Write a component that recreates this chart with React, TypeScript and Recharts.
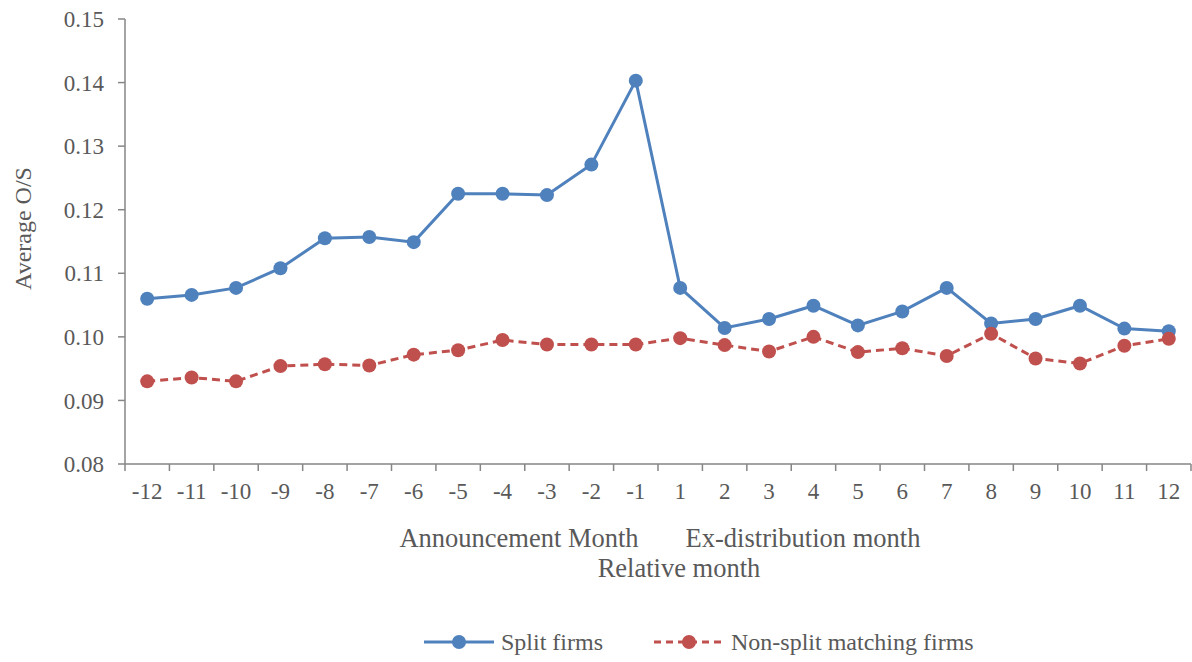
import React from "react";
import { LineChart, Line, XAxis, YAxis, Legend } from "recharts";

const months = ["-12", "-11", "-10", "-9", "-8", "-7", "-6", "-5", "-4", "-3", "-2", "-1", "1", "2", "3", "4", "5", "6", "7", "8", "9", "10", "11", "12"];
const splitFirms = [0.106, 0.1066, 0.1077, 0.1108, 0.1155, 0.1157, 0.1149, 0.1225, 0.1225, 0.1223, 0.1271, 0.1403, 0.1077, 0.1014, 0.1028, 0.1049, 0.1018, 0.104, 0.1077, 0.1021, 0.1028, 0.1049, 0.1013, 0.1009];
const nonSplitFirms = [0.093, 0.0936, 0.093, 0.0954, 0.0957, 0.0955, 0.0972, 0.0979, 0.0995, 0.0988, 0.0988, 0.0988, 0.0998, 0.0987, 0.0977, 0.1, 0.0976, 0.0982, 0.097, 0.1005, 0.0966, 0.0958, 0.0986, 0.0997];
const yTicks = [0.08, 0.09, 0.1, 0.11, 0.12, 0.13, 0.14, 0.15];

const BLUE = "#4F81BD";
const RED = "#C0504D";
const AXIS = "#868686";
const TEXT = "#595959";
const FONT = "'Liberation Serif', 'Times New Roman', serif";

const data = months.map((m, i) => ({
  idx: i,
  month: m,
  split: splitFirms[i],
  nonSplit: nonSplitFirms[i],
}));

// tick marks sit between the categories
const boundaryTicks = months.map((_, i) => i - 0.5).concat(months.length - 0.5);
const centerTicks = months.map((_, i) => i);

const XNotes = ({ viewBox }: any) => {
  const { x, y } = viewBox;
  return (
    <g fontFamily={FONT} fill={TEXT} fontSize={26.5}>
      <text x={x + 394} y={y + 76} textAnchor="middle">Announcement Month</text>
      <text x={x + 678} y={y + 76} textAnchor="middle">Ex-distribution month</text>
      <text x={x + 554} y={y + 106} textAnchor="middle">Relative month</text>
    </g>
  );
};

const YTitle = ({ viewBox }: any) => {
  const cy = viewBox.y + viewBox.height / 2 - 13;
  return (
    <text x={31} y={cy} transform={`rotate(-90 31 ${cy})`} textAnchor="middle" fontFamily={FONT} fill={TEXT} fontSize={24}>
      Average O/S
    </text>
  );
};

const LegendContent = () => {
  const items = [
    { name: "Split firms", color: BLUE, dash: undefined as string | undefined },
    { name: "Non-split matching firms", color: RED, dash: "7 5" },
  ];
  return (
    <div style={{ height: 40, display: "flex", justifyContent: "flex-start", paddingLeft: 423, alignItems: "center", fontFamily: FONT, fontSize: 24, color: TEXT }}>
      {items.map((it, i) => (
        <div key={it.name} style={{ display: "flex", alignItems: "center", marginLeft: i ? 50 : 0 }}>
          <svg width={72} height={16}>
            <line x1={1} y1={8} x2={71} y2={8} stroke={it.color} strokeWidth={3} strokeDasharray={it.dash} />
            <circle cx={36} cy={8} r={7} fill={it.color} />
          </svg>
          <span style={{ marginLeft: 6 }}>{it.name}</span>
        </div>
      ))}
    </div>
  );
};

export default function App() {
  return (
    <div style={{ position: "absolute", left: 0, top: 0, background: "#fff", fontFamily: FONT }}>
      <LineChart width={1192} height={662} data={data} margin={{ top: 19, right: 1, left: 0, bottom: 0 }} style={{ fontFamily: FONT }}>
        <XAxis
          dataKey="idx"
          type="number"
          domain={[-0.5, months.length - 0.5]}
          ticks={boundaryTicks}
          tickFormatter={() => ""}
          tickSize={7}
          height={7}
          stroke={AXIS}
          strokeWidth={1.5}
        />
        <XAxis
          xAxisId="labels"
          dataKey="idx"
          type="number"
          domain={[-0.5, months.length - 0.5]}
          ticks={centerTicks}
          tickFormatter={(v) => months[v]}
          axisLine={false}
          tickLine={false}
          tickSize={0}
          tickMargin={12}
          interval={0}
          height={151}
          fontFamily={FONT}
          tick={{ fill: TEXT, fontFamily: FONT, fontSize: 23 }}
          label={<XNotes />}
        />
        <YAxis
          domain={[0.08, 0.15]}
          ticks={yTicks}
          tickFormatter={(v) => v.toFixed(2)}
          width={125}
          tickSize={7}
          tickMargin={14}
          stroke={AXIS}
          strokeWidth={1.5}
          fontFamily={FONT}
          tick={{ fill: TEXT, fontFamily: FONT, fontSize: 23 }}
          label={<YTitle />}
        />
        <Legend verticalAlign="bottom" content={<LegendContent />} />
        <Line
          dataKey="split"
          name="Split firms"
          stroke={BLUE}
          strokeWidth={3}
          dot={{ r: 7, fill: BLUE, stroke: BLUE, strokeWidth: 0 }}
          isAnimationActive={false}
        />
        <Line
          dataKey="nonSplit"
          name="Non-split matching firms"
          stroke={RED}
          strokeWidth={3}
          strokeDasharray="8 5"
          dot={{ r: 7, fill: RED, stroke: RED, strokeWidth: 0, strokeDasharray: "" }}
          isAnimationActive={false}
        />
      </LineChart>
    </div>
  );
}
